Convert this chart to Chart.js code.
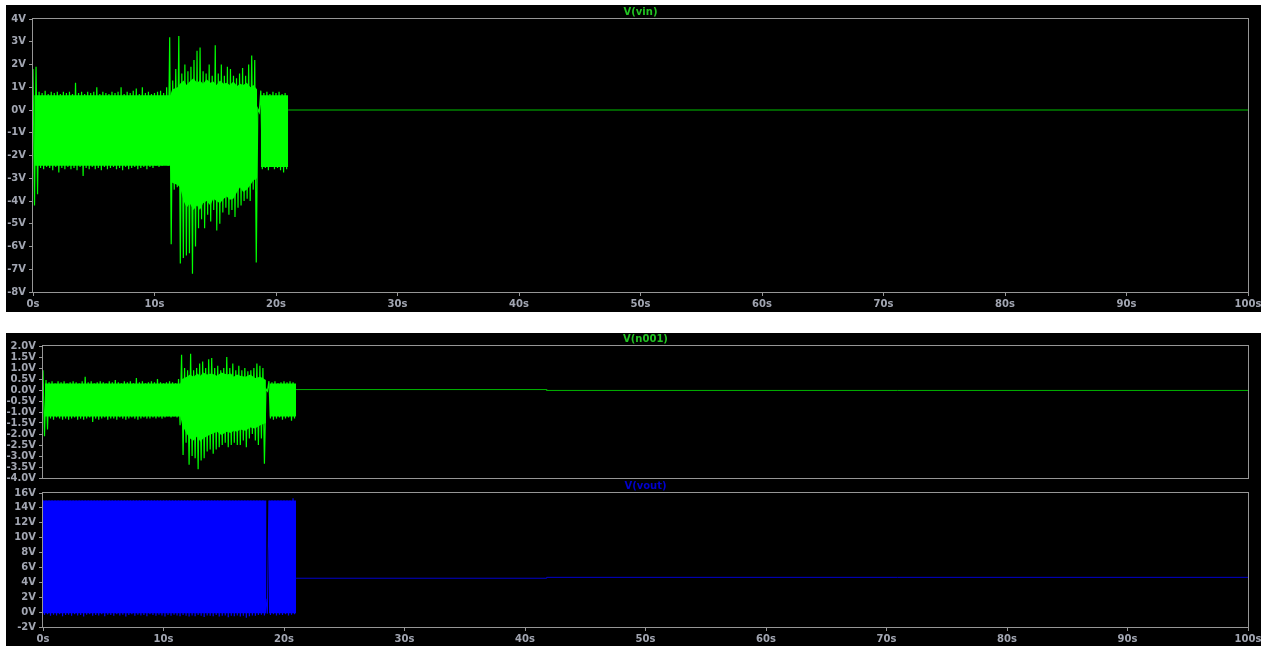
<!DOCTYPE html>
<html>
<head>
<meta charset="utf-8">
<script src="https://cdn.jsdelivr.net/npm/chart.js@4.4.1/dist/chart.umd.min.js"></script>
<style>
  html, body { margin: 0; padding: 0; background: #ffffff; }
  body { width: 1261px; height: 646px; position: relative; overflow: hidden; }
  .pane { position: absolute; background: #000000; }
  canvas { position: absolute; left: 0; }
</style>
</head>
<body>
<div class="pane" style="left:6px; top:5px; width:1255px; height:307px;">
  <canvas id="cVin" width="1255" height="307" style="top:0;"></canvas>
</div>
<div class="pane" style="left:6px; top:333px; width:1255px; height:313px;">
  <canvas id="cN001" width="1255" height="153" style="top:0;"></canvas>
  <canvas id="cVout" width="1255" height="170" style="top:143px;"></canvas>
</div>
<script>
// Transient run: per-bin peak (max) and trough (min) readings, 0.25 s bins from 0 s to 21 s
const TRACE_START = 0;
const BIN = 0.25;

const vinMax = [
  1.8, 1.9, 0.8, 0.75, 0.85, 0.7, 0.8, 0.75, 0.8, 0.7, 0.8, 0.75,
  0.8, 0.7, 1.2, 0.75, 0.8, 0.7, 0.8, 0.75, 0.8, 1.0, 0.7, 0.8,
  0.75, 0.7, 0.8, 0.75, 0.8, 1.0, 0.7, 0.8, 0.75, 0.85, 0.95, 0.7,
  1.0, 0.75, 0.8, 0.7, 0.75, 0.8, 0.85, 0.75, 1.0, 3.2, 1.3, 1.8,
  3.25, 1.6, 2.0, 1.7, 1.9, 2.2, 2.6, 2.75, 1.7, 1.6, 2.0, 1.5,
  2.85, 1.6, 2.0, 1.5, 1.9, 1.8, 1.5, 1.4, 1.6, 1.85, 1.5, 2.0,
  2.4, 2.2, 0.05, 0.85, 0.75, 0.8, 0.7, 0.8, 0.75, 0.8, 0.7, 0.75
];
const vinMin = [
  -4.2, -3.7, -2.55, -2.6, -2.5, -2.55, -2.65, -2.5, -2.75, -2.55, -2.6, -2.5,
  -2.6, -2.55, -2.65, -2.5, -2.9, -2.55, -2.6, -2.5, -2.6, -2.55, -2.65, -2.5,
  -2.6, -2.55, -2.5, -2.6, -2.55, -2.65, -2.5, -2.6, -2.55, -2.5, -2.6, -2.55,
  -2.5, -2.6, -2.5, -2.55, -2.45, -2.5, -2.45, -2.4, -2.45, -5.9, -3.5, -3.4,
  -6.75, -6.5, -6.4, -6.3, -7.2, -6.0, -5.2, -4.8, -5.2, -4.6, -4.9, -4.4,
  -5.3, -5.0, -4.5, -4.3, -4.6, -4.4, -4.7, -4.3, -4.2, -4.0, -3.9, -4.0,
  -3.5, -6.7, -0.1, -2.6, -2.55, -2.65, -2.5, -2.6, -2.55, -2.65, -2.75, -2.6
];
// Dense body of the V(vin) trace (where the switching fills the band solid)
const vinCoreT  = [0.1, 11.3, 11.45, 11.9, 12.1, 12.4, 12.65, 12.9, 13.2, 13.5,
                   13.74, 14.0, 14.29, 14.6, 14.84, 15.1, 15.39, 15.7, 15.94, 16.2,
                   16.49, 16.8, 17.04, 17.3, 17.59, 17.9, 18.13, 18.45, 18.6, 18.75, 21.0];
const vinCoreHi = [0.65, 0.65, 0.9, 1.0, 1.15, 1.3, 1.1, 1.25, 1.4, 1.2,
                   1.3, 1.15, 1.35, 1.2, 1.25, 1.1, 1.3, 1.15, 1.2, 1.1,
                   1.25, 1.05, 1.15, 1.1, 1.2, 1.0, 1.1, 0.9, null, 0.65, 0.65];
const vinCoreLo = [-2.45, -2.45, -3.2, -3.3, -3.4, -4.0, -4.3, -4.1, -4.4, -4.2,
                   -4.4, -4.1, -4.0, -4.2, -3.9, -4.0, -4.1, -3.9, -3.8, -3.95,
                   -3.9, -3.6, -3.4, -3.6, -3.5, -3.3, -3.1, -3.0, null, -2.5, -2.5];

const n001Max = [
  0.9, 0.45, 0.35, 0.4, 0.3, 0.4, 0.35, 0.4, 0.3, 0.35, 0.4, 0.35,
  0.3, 0.4, 0.6, 0.35, 0.4, 0.3, 0.35, 0.4, 0.35, 0.3, 0.4, 0.35,
  0.45, 0.35, 0.3, 0.4, 0.35, 0.4, 0.3, 0.55, 0.35, 0.4, 0.3, 0.35,
  0.4, 0.35, 0.5, 0.35, 0.3, 0.35, 0.4, 0.35, 0.3, 0.5, 1.6, 1.0,
  0.9, 1.65, 0.9, 1.0, 1.2, 1.3, 1.0, 1.4, 1.45, 1.0, 1.1, 0.9,
  1.0, 1.5, 1.0, 1.2, 0.9, 1.1, 0.9, 1.0, 0.85, 0.9, 1.0, 1.2,
  1.1, 1.0, 0.05, 0.4, 0.35, 0.4, 0.3, 0.35, 0.4, 0.35, 0.4, 0.35
];
const n001Min = [
  -2.1, -1.8, -1.3, -1.35, -1.25, -1.3, -1.35, -1.3, -1.35, -1.3, -1.25, -1.35,
  -1.3, -1.35, -1.3, -1.25, -1.45, -1.3, -1.35, -1.3, -1.25, -1.35, -1.3, -1.3,
  -1.35, -1.25, -1.3, -1.35, -1.3, -1.25, -1.3, -1.35, -1.3, -1.25, -1.3, -1.3,
  -1.25, -1.3, -1.25, -1.3, -1.25, -1.2, -1.25, -1.2, -1.25, -1.6, -2.95, -2.4,
  -3.4, -3.0, -3.1, -3.6, -3.2, -3.1, -2.8, -2.7, -2.9, -2.7, -2.6, -2.5,
  -2.4, -2.6, -2.5, -2.4, -2.5, -2.5, -2.3, -2.6, -2.2, -2.0, -2.3, -2.5,
  -2.2, -3.35, -0.05, -1.3, -1.35, -1.3, -1.25, -1.35, -1.3, -1.25, -1.4, -1.3
];
const n001CoreT  = [0.15, 11.4, 11.55, 11.94, 12.2, 12.5, 12.8, 13.06, 13.3, 13.61,
                    14.0, 14.44, 14.8, 15.27, 15.6, 15.82, 16.1, 16.37, 16.8, 17.2,
                    17.6, 18.03, 18.5, 18.65, 18.8, 21.0];
const n001CoreHi = [0.3, 0.3, 0.5, 0.6, 0.7, 0.6, 0.75, 0.65, 0.8, 0.7,
                    0.75, 0.65, 0.8, 0.7, 0.75, 0.6, 0.7, 0.65, 0.6, 0.7,
                    0.55, 0.6, 0.45, null, 0.3, 0.3];
const n001CoreLo = [-1.2, -1.2, -1.6, -2.0, -2.2, -2.3, -2.1, -2.35, -2.2, -2.1,
                    -2.0, -1.9, -2.05, -1.9, -1.95, -1.85, -1.9, -1.8, -1.85, -1.7,
                    -1.75, -1.6, -1.5, null, -1.2, -1.2];

const voutMax = [
  15, 15, 15, 15, 15, 15, 15, 15, 15, 15, 15, 15,
  15, 15, 15, 15, 15, 15, 15, 15, 15, 15, 15, 15,
  15, 15, 15, 15, 15, 15, 15, 15, 15, 15, 15, 15,
  15, 15, 15, 15, 15, 15, 15, 15, 15, 15, 15, 15,
  15, 15, 15, 15, 15, 15, 15, 15, 15, 15, 15, 15,
  15, 15, 15, 15, 15, 15, 15, 15, 15, 15, 15, 15,
  15, 15, 1.8, 15, 15, 15, 15, 15, 15, 15, 15, 15.3
];
const voutMin = [
  -0.4, -0.3, -0.5, -0.35, -0.45, -0.3, -0.55, -0.4, -0.35, -0.5, -0.3, -0.45,
  -0.4, -0.6, -0.35, -0.3, -0.5, -0.4, -0.45, -0.3, -0.55, -0.35, -0.4, -0.5,
  -0.3, -0.45, -0.35, -0.6, -0.4, -0.3, -0.5, -0.35, -0.45, -0.4, -0.55, -0.3,
  -0.4, -0.5, -0.35, -0.45, -0.6, -0.4, -0.5, -0.35, -0.45, -0.55, -0.4, -0.5,
  -0.6, -0.45, -0.55, -0.4, -0.5, -0.65, -0.45, -0.5, -0.55, -0.4, -0.6, -0.5,
  -0.45, -0.7, -0.5, -0.55, -0.45, -0.6, -0.5, -0.75, -0.55, -0.45, -0.5, -0.4,
  -0.35, -0.45, -0.2, -0.4, -0.3, -0.45, -0.35, -0.4, -0.3, -0.45, -0.35, -0.3
];
const voutCoreT  = [0.0, 18.55, 18.65, 18.75, 21.0];
const voutCoreHi = [15, 15, null, 15, 15];
const voutCoreLo = [-0.15, -0.15, null, -0.15, -0.15];

// Settled tails after the source stops (time in s, value in V)
const vinTailT = [21, 100];
const vinTailV = [0, 0];
const n001TailT = [21, 41.8, 41.8, 100];
const n001TailV = [0.02, 0.02, -0.02, -0.02];
const voutTailT = [21, 41.8, 41.8, 100];
const voutTailV = [4.55, 4.55, 4.67, 4.67];

// Axis ranges / ticks
const timeTicks = { min: 0, max: 100, step: 10 };
const vinAxis = { min: -8, max: 4, step: 1 };
const n001Axis = { min: -4, max: 2, step: 0.5 };
const voutAxis = { min: -2, max: 16, step: 2 };

// ---- drawing helpers ----
const FONT = { family: "'DejaVu Sans', sans-serif", size: 10, weight: 'bold' };
const LABEL = '#a2a6b2';
const FRAME = '#969696';

function peaksToTrace(maxArr, minArr) {
  const pts = [];
  for (let i = 0; i < maxArr.length; i++) {
    const t = TRACE_START + i * BIN;
    pts.push({ x: t, y: maxArr[i] });
    pts.push({ x: t + BIN / 2, y: minArr[i] });
  }
  return pts;
}
function pairs(ts, vs) { return ts.map((t, i) => ({ x: t, y: vs[i] })); }

const framePlugin = {
  id: 'plotFrame',
  beforeDatasetsDraw(chart) {
    const a = chart.chartArea, ctx = chart.ctx;
    ctx.save();
    ctx.strokeStyle = FRAME;
    ctx.lineWidth = 1;
    ctx.strokeRect(Math.round(a.left) - 0.5, Math.round(a.top) - 0.5,
                   Math.round(a.right - a.left) + 1, Math.round(a.bottom - a.top) + 1);
    ctx.restore();
  }
};
const titlePlugin = {
  id: 'panelTitle',
  afterDraw(chart, args, opts) {
    const a = chart.chartArea, ctx = chart.ctx;
    ctx.save();
    ctx.font = 'bold 10px "DejaVu Sans", sans-serif';
    ctx.fillStyle = opts.color;
    ctx.textAlign = 'center';
    ctx.textBaseline = 'middle';
    ctx.fillText(opts.text, (a.left + a.right) / 2, a.top - 7);
    ctx.restore();
  }
};

function makeChart(id, cfg) {
  const xScale = {
    type: 'linear', min: timeTicks.min, max: timeTicks.max,
    afterFit: s => { s.height = cfg.xHeight; s.paddingLeft = 0; s.paddingRight = 0; },
    border: { display: false },
    grid: { display: cfg.xLabels, drawOnChartArea: false, tickLength: 4, color: FRAME },
    ticks: {
      display: cfg.xLabels, stepSize: timeTicks.step, autoSkip: false, maxRotation: 0,
      color: LABEL, font: FONT, padding: 2,
      callback: v => v + 's'
    }
  };
  const yScale = {
    type: 'linear', min: cfg.axis.min, max: cfg.axis.max,
    afterFit: s => { s.width = cfg.yWidth; s.paddingTop = 0; s.paddingBottom = 0; },
    border: { display: false },
    grid: { drawOnChartArea: false, tickLength: 4, color: FRAME },
    ticks: {
      stepSize: cfg.axis.step, autoSkip: false, color: LABEL, font: FONT, padding: 3,
      callback: v => cfg.fmt(v) + 'V'
    }
  };
  return new Chart(document.getElementById(id), {
    type: 'line',
    data: {
      datasets: [
        { data: pairs(cfg.tailT, cfg.tailV), borderColor: cfg.tailColor, borderWidth: 1 },
        { data: pairs(cfg.coreT, cfg.coreHi), borderWidth: 0, borderColor: cfg.color,
          backgroundColor: cfg.color, fill: '+1', spanGaps: false },
        { data: pairs(cfg.coreT, cfg.coreLo), borderWidth: 0, borderColor: cfg.color,
          fill: false, spanGaps: false },
        { data: peaksToTrace(cfg.max, cfg.min), borderColor: cfg.color, borderWidth: cfg.lw }
      ]
    },
    options: {
      responsive: false, animation: false, devicePixelRatio: 1,
      elements: { point: { radius: 0 }, line: { tension: 0, borderJoinStyle: 'miter' } },
      layout: { padding: cfg.padding },
      plugins: {
        legend: { display: false }, tooltip: { enabled: false },
        panelTitle: { text: cfg.title, color: cfg.titleColor }
      },
      scales: { x: xScale, y: yScale }
    },
    plugins: [framePlugin, titlePlugin]
  });
}

makeChart('cVin', {
  title: 'V(vin)', titleColor: '#22c422',
  max: vinMax, min: vinMin, color: '#00ff00', lw: 1.2,
  coreT: vinCoreT, coreHi: vinCoreHi, coreLo: vinCoreLo,
  tailT: vinTailT, tailV: vinTailV, tailColor: '#00c000',
  axis: vinAxis, fmt: v => String(v),
  padding: { top: 14, right: 13, left: 0, bottom: 0 },
  yWidth: 27, xHeight: 20, xLabels: true
});

makeChart('cN001', {
  title: 'V(n001)', titleColor: '#22c422',
  max: n001Max, min: n001Min, color: '#00ff00', lw: 1.2,
  coreT: n001CoreT, coreHi: n001CoreHi, coreLo: n001CoreLo,
  tailT: n001TailT, tailV: n001TailV, tailColor: '#00b400',
  axis: n001Axis, fmt: v => v.toFixed(1),
  padding: { top: 13, right: 13, left: 0, bottom: 0 },
  yWidth: 37, xHeight: 8, xLabels: false
});

makeChart('cVout', {
  title: 'V(vout)', titleColor: '#0000cc',
  max: voutMax, min: voutMin, color: '#0000ff', lw: 1.2,
  coreT: voutCoreT, coreHi: voutCoreHi, coreLo: voutCoreLo,
  tailT: voutTailT, tailV: voutTailV, tailColor: '#0000cc',
  axis: voutAxis, fmt: v => String(v),
  padding: { top: 17, right: 13, left: 0, bottom: 0 },
  yWidth: 37, xHeight: 19, xLabels: true
});
</script>
</body>
</html>
